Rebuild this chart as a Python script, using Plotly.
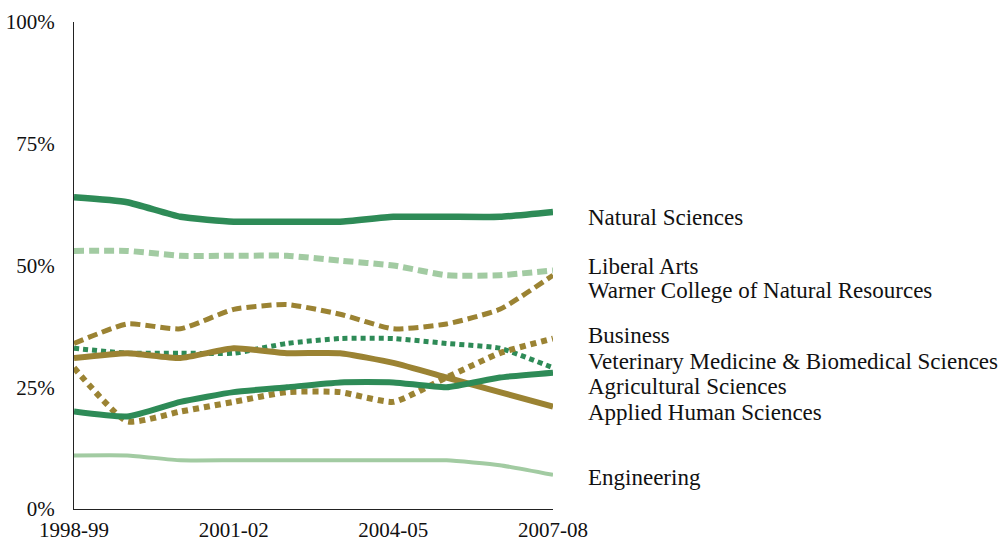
import plotly.graph_objects as go

years = ["1998-99", "1999-00", "2000-01", "2001-02", "2002-03",
         "2003-04", "2004-05", "2005-06", "2006-07", "2007-08"]
tick_years = ["1998-99", "2001-02", "2004-05", "2007-08"]

natural_sciences = [64, 63, 60, 59, 59, 59, 60, 60, 60, 61]
liberal_arts = [53, 53, 52, 52, 52, 51, 50, 48, 48, 49]
warner = [34, 38, 37, 41, 42, 40, 37, 38, 41, 48]
business = [29, 18, 20, 22, 24, 24, 22, 27, 32, 35]
vet_med = [33, 32, 32, 32, 34, 35, 35, 34, 33, 29]
agricultural = [20, 19, 22, 24, 25, 26, 26, 25, 27, 28]
applied_human = [31, 32, 31, 33, 32, 32, 30, 27, 24, 21]
engineering = [11, 11, 10, 10, 10, 10, 10, 10, 9, 7]

names = ["Natural Sciences", "Liberal Arts", "Warner College of Natural Resources",
         "Business", "Veterinary Medicine & Biomedical Sciences",
         "Agricultural Sciences", "Applied Human Sciences", "Engineering"]
label_y = [59.8, 49.7, 44.8, 35.7, 30.2, 25.1, 19.9, 6.4]

DARK = "#2e8b57"
LIGHT = "#a2cba2"
OLIVE = "#9b8333"

series = [
    (engineering, LIGHT, 4, "solid"),
    (liberal_arts, LIGHT, 6, "10px,5px"),
    (natural_sciences, DARK, 6.5, "solid"),
    (warner, OLIVE, 5, "10px,5px"),
    (vet_med, DARK, 5, "5px,4px"),
    (business, OLIVE, 6, "6px,5px"),
    (applied_human, OLIVE, 6, "solid"),
    (agricultural, DARK, 6, "solid"),
]

FONT = "Liberation Serif, DejaVu Serif, serif"

fig = go.Figure()
for vals, color, w, dash in series:
    fig.add_trace(go.Scatter(
        x=years, y=vals, mode="lines",
        line=dict(color=color, width=w, dash=dash, shape="spline", smoothing=0.5),
        hoverinfo="skip", showlegend=False,
    ))

for name, yv in zip(names, label_y):
    fig.add_annotation(
        text=name, xref="paper", yref="y", x=1.069, y=yv,
        xanchor="left", yanchor="middle", showarrow=False,
        font=dict(family=FONT, size=23, color="#111111"),
    )

fig.update_layout(
    width=1001, height=542,
    margin=dict(l=74, r=448, t=22, b=33),
    paper_bgcolor="white", plot_bgcolor="white",
    font=dict(family=FONT, size=21, color="#111111"),
    xaxis=dict(
        type="category", range=[0, 9], tickvals=tick_years, ticktext=tick_years,
        showgrid=False, zeroline=False, showline=True, linecolor="#222222", linewidth=1,
        ticks="", ticklen=0, tickfont=dict(size=21), automargin=False,
        ticklabelstandoff=2,
    ),
    yaxis=dict(
        range=[0, 100], tickvals=[0, 25, 50, 75, 100],
        ticktext=["0%", "25%", "50%", "75%", "100%"],
        showgrid=False, zeroline=False, showline=True, linecolor="#222222", linewidth=1,
        ticks="", ticklen=0, tickfont=dict(size=21), automargin=False,
        ticklabelstandoff=14,
    ),
)

fig.write_html(
    "out.html",
    config={"displayModeBar": False},
    post_script="document.body.style.margin='0';document.body.style.overflow='hidden';",
)
